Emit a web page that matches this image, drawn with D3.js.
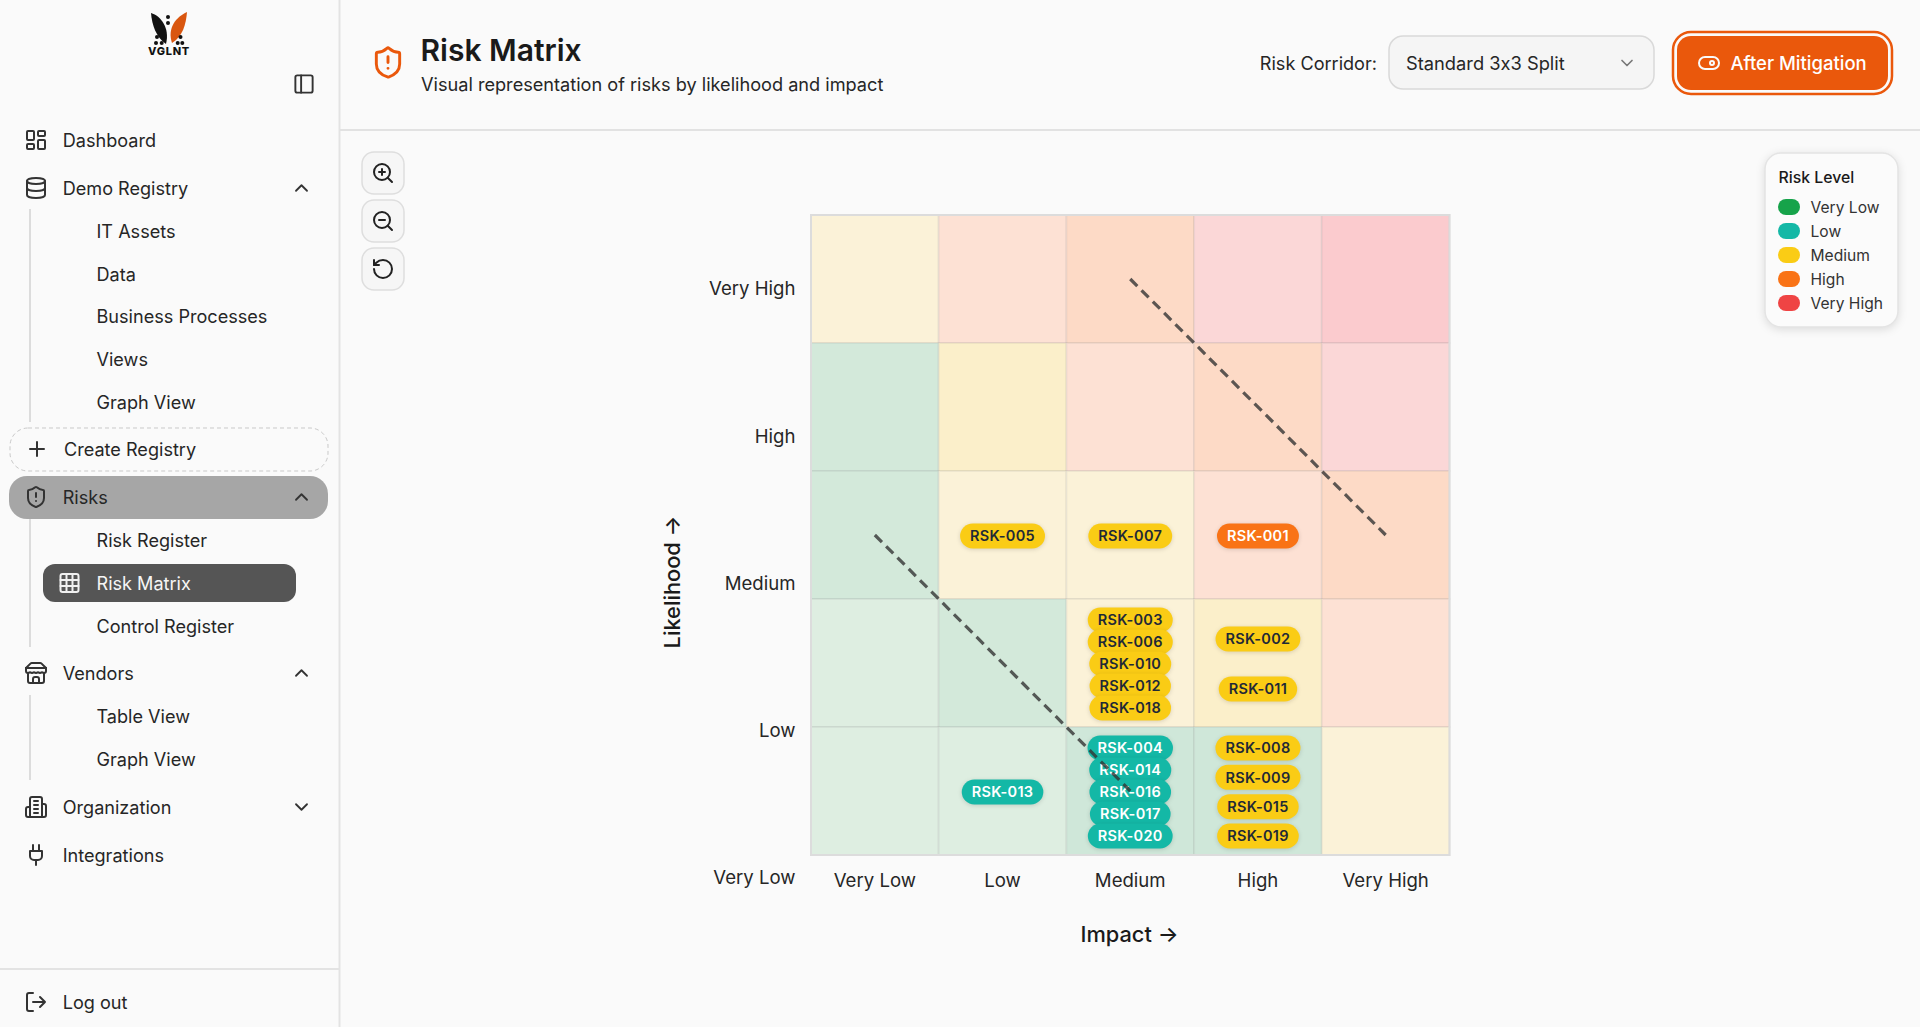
<!DOCTYPE html>
<html>
<head>
<meta charset="utf-8">
<title>Risk Matrix</title>
<script src="https://cdn.jsdelivr.net/npm/d3@7"></script>
<style>
    html, body { margin: 0; padding: 0; background: #fafafa; overflow: hidden; }
    svg { display: block; font-family: Inter, "Noto Sans", sans-serif; font-feature-settings: "calt" 0; }
    .badge rect { filter: drop-shadow(0 1px 2px rgba(0,0,0,.14)); }
    .axis .domain, .axis line { display: none; }
</style>
</head>
<body>
<svg id="page" width="1920" height="1027"></svg>
<script>
// matrix categories
var impactLevels = ["Very Low", "Low", "Medium", "High", "Very High"]
var likelihoodLevels = ["Very Low", "Low", "Medium", "High", "Very High"]

// cell tints, rows top to bottom (Very High -> Very Low)
var cellTints = [
    ["y1", "o1", "o2", "r1", "r2"],
    ["g2", "y2", "o1", "o2", "r1"],
    ["g2", "y1", "y1", "o1", "o2"],
    ["g1", "g2", "y1", "y2", "o1"],
    ["g1", "g1", "t1", "t1", "y1"]
]

// risks
var riskIds = ["RSK-001","RSK-002","RSK-003","RSK-004","RSK-005","RSK-006","RSK-007","RSK-008","RSK-009","RSK-010",
               "RSK-011","RSK-012","RSK-013","RSK-014","RSK-015","RSK-016","RSK-017","RSK-018","RSK-019","RSK-020"]
var riskImpact = ["High","High","Medium","Medium","Low","Medium","Medium","High","High","Medium",
                  "High","Medium","Low","Medium","High","Medium","Medium","Medium","High","Medium"]
var riskLikelihood = ["Medium","Low","Low","Very Low","Medium","Low","Medium","Very Low","Very Low","Low",
                      "Low","Low","Very Low","Very Low","Very Low","Very Low","Very Low","Low","Very Low","Very Low"]
var riskLevel = ["High","Medium","Medium","Low","Medium","Medium","Medium","Medium","Medium","Medium",
                 "Medium","Medium","Low","Low","Medium","Low","Low","Medium","Medium","Low"]

// legend
var legendLevels = ["Very Low", "Low", "Medium", "High", "Very High"]
var legendColors = ["#16a34a", "#14b8a6", "#facc15", "#f97316", "#ef4444"]

// 3x3 corridor lines [impact, likelihood] -> [impact, likelihood]
var corridorLines = [
    [["Very Low", "Medium"], ["Medium", "Very Low"]],
    [["Medium", "Very High"], ["Very High", "Medium"]]
]

// sidebar
var navLabels = ["Dashboard","Demo Registry","IT Assets","Data","Business Processes","Views","Graph View","Create Registry","Risks","Risk Register","Risk Matrix","Control Register","Vendors","Table View","Graph View","Organization","Integrations","Log out"]
var navY = [140,188,231,274,316,359,402,449,497,540,583,626,673,716,759,807,855,1002]
var navIcons = ["dashboard","database",null,null,null,null,null,"plus","shield",null,"grid",null,"store",null,null,"building","plug","logout"]
var navCarets = {1:"up", 8:"up", 12:"up", 15:"down"}

var icons = {
    dashboard: '<rect x="3" y="3" width="7" height="9" rx="1"/><rect x="14" y="3" width="7" height="5" rx="1"/><rect x="14" y="12" width="7" height="9" rx="1"/><rect x="3" y="16" width="7" height="5" rx="1"/>',
    database: '<ellipse cx="12" cy="5" rx="9" ry="3"/><path d="M3 5V19A9 3 0 0 0 21 19V5"/><path d="M3 12A9 3 0 0 0 21 12"/>',
    plus: '<path d="M5 12h14M12 5v14"/>',
    shield: '<path d="M20 13c0 5-3.5 7.5-7.66 8.95a1 1 0 0 1-.67-.01C7.5 20.5 4 18 4 13V6a1 1 0 0 1 1-1c2 0 4.5-1.2 6.24-2.72a1.17 1.17 0 0 1 1.52 0C14.51 3.81 17 5 19 5a1 1 0 0 1 1 1z"/><path d="M12 8v4M12 16h.01"/>',
    grid: '<rect x="3" y="3" width="18" height="18" rx="2"/><path d="M3 9h18M3 15h18M9 3v18M15 3v18"/>',
    store: '<path d="M2 7l4.41-4.41A2 2 0 0 1 7.83 2h8.34a2 2 0 0 1 1.42.59L22 7"/><path d="M4 12v8a2 2 0 0 0 2 2h12a2 2 0 0 0 2-2v-8"/><path d="M15 22v-4a2 2 0 0 0-2-2h-2a2 2 0 0 0-2 2v4"/><path d="M2 7h20"/><path d="M22 7v3a2 2 0 0 1-2 2a2.7 2.7 0 0 1-1.59-.63.7.7 0 0 0-.82 0A2.7 2.7 0 0 1 16 12a2.7 2.7 0 0 1-1.59-.63.7.7 0 0 0-.82 0A2.7 2.7 0 0 1 12 12a2.7 2.7 0 0 1-1.59-.63.7.7 0 0 0-.82 0A2.7 2.7 0 0 1 8 12a2.7 2.7 0 0 1-1.59-.63.7.7 0 0 0-.82 0A2.7 2.7 0 0 1 4 12a2 2 0 0 1-2-2V7"/>',
    building: '<path d="M6 22V4a2 2 0 0 1 2-2h8a2 2 0 0 1 2 2v18Z"/><path d="M6 12H4a2 2 0 0 0-2 2v6a2 2 0 0 0 2 2h2"/><path d="M18 9h2a2 2 0 0 1 2 2v9a2 2 0 0 1-2 2h-2"/><path d="M10 6h4M10 10h4M10 14h4M10 18h4"/>',
    plug: '<path d="M12 22v-5M9 8V2M15 8V2"/><path d="M18 8v5a4 4 0 0 1-4 4h-4a4 4 0 0 1-4-4V8Z"/>',
    logout: '<path d="M9 21H5a2 2 0 0 1-2-2V5a2 2 0 0 1 2-2h4"/><path d="M16 17l5-5-5-5M21 12H9"/>',
    panel: '<rect x="3" y="3" width="18" height="18" rx="2"/><path d="M9 3v18"/>',
    zoomin: '<circle cx="11" cy="11" r="8"/><path d="M21 21l-4.3-4.3M11 8v6M8 11h6"/>',
    zoomout: '<circle cx="11" cy="11" r="8"/><path d="M21 21l-4.3-4.3M8 11h6"/>',
    reset: '<path d="M3 12a9 9 0 1 0 9-9 9.75 9.75 0 0 0-6.74 2.74L3 8"/><path d="M3 3v5h5"/>',
    toggle: '<circle cx="15" cy="12" r="2"/><rect x="2" y="6" width="20" height="12" rx="6"/>',
    up: '<path d="M18 15l-6-6-6 6"/>',
    down: '<path d="M6 9l6 6 6-6"/>'
}

var svg = d3.select("#page")
var textColor = "#262626"

function addIcon(name, cx, cy, size, color) {
    svg.append("g")
        .attr("transform", `translate(${cx - size / 2},${cy - size / 2}) scale(${size / 24})`)
        .attr("fill", "none")
        .attr("stroke", color)
        .attr("stroke-width", 2)
        .attr("stroke-linecap", "round")
        .attr("stroke-linejoin", "round")
        .html(icons[name])
}

function addText(str, x, y, size, opts) {
    opts = opts || {}
    return svg.append("text")
        .attr("x", x)
        .attr("y", y + 0.3)
        .attr("dy", "0.35em")
        .attr("font-size", size)
        .attr("font-weight", opts.weight || 400)
        .attr("text-anchor", opts.anchor || "start")
        .attr("fill", opts.color || textColor)
        .text(str)
}

//SIDEBAR
svg.append("line").attr("x1", 339.5).attr("x2", 339.5).attr("y1", 0).attr("y2", 1027).attr("stroke", "#e3e3e3").attr("stroke-width", 2)
svg.append("line").attr("x1", 0).attr("x2", 339).attr("y1", 969).attr("y2", 969).attr("stroke", "#e3e3e3").attr("stroke-width", 2)

// logo
var logo = svg.append("g")
logo.append("path").attr("d", "M151 13C161 16 170 28 166 44C156 37 152 25 151 13Z").attr("fill", "#111")
logo.append("path").attr("d", "M187 12C176 17 167 28 172 43C183 36 186 24 187 12Z").attr("fill", "#d9560f")
logo.selectAll("circle")
    .data([[168,17],[168,23],[157,37],[156,43],[161.7,43],[180.5,37],[177.7,43],[182.3,43]])
    .enter().append("circle")
    .attr("cx", d => d[0]).attr("cy", d => d[1]).attr("r", 2).attr("fill", "#111")
addText("VGLNT", 169, 50.5, 11, {weight: 800, anchor: "middle", color: "#111"}).attr("letter-spacing", 0.7)
addIcon("panel", 304, 84, 23, "#333")

// highlighted rows
svg.append("rect").attr("x", 10).attr("y", 428).attr("width", 318).attr("height", 43).attr("rx", 18)
    .attr("fill", "none").attr("stroke", "#c9c9c9").attr("stroke-dasharray", "4 3")
svg.append("rect").attr("x", 9).attr("y", 476).attr("width", 319).attr("height", 43).attr("rx", 18).attr("fill", "#a6a6a6")
svg.append("rect").attr("x", 43).attr("y", 564).attr("width", 253).attr("height", 38).attr("rx", 12).attr("fill", "#555555")

// tree lines
var treeLines = [[209, 422], [519, 647], [695, 780]]
svg.selectAll("line.tree").data(treeLines).enter().append("line").attr("class", "tree")
    .attr("x1", 30).attr("x2", 30)
    .attr("y1", d => d[0]).attr("y2", d => d[1])
    .attr("stroke", "#dcdcdc").attr("stroke-width", 2)

navLabels.forEach(function(label, i) {
    var isActive = label === "Risk Matrix"
    var x = label === "Create Registry" ? 64 : (navIcons[i] === null || isActive ? 96.5 : 62.7)
    addText(label, x, navY[i], 18.1, {color: isActive ? "#f5f5f5" : textColor})
    if (navIcons[i]) {
        var ix = isActive ? 69.5 : (label === "Create Registry" ? 37 : 36)
        addIcon(navIcons[i], ix, navY[i], 24, isActive ? "#f0f0f0" : "#333")
    }
    if (navCarets[i]) addIcon(navCarets[i], 301.5, navY[i], 22, "#333")
})

//HEADER
svg.append("line").attr("x1", 340).attr("x2", 1920).attr("y1", 130).attr("y2", 130).attr("stroke", "#e2e2e2").attr("stroke-width", 2)
addIcon("shield", 388, 62.5, 35, "#ea580c")
addText("Risk Matrix", 420.5, 50, 30, {weight: 600, color: "#1a1a1a"})
addText("Visual representation of risks by likelihood and impact", 421, 84.5, 18.15)

addText("Risk Corridor:", 1377, 63, 18.1, {anchor: "end"})
svg.append("rect").attr("x", 1389).attr("y", 36).attr("width", 265).attr("height", 53).attr("rx", 14)
    .attr("fill", "#f5f5f5").attr("stroke", "#d9d9d9").attr("stroke-width", 1.5)
addText("Standard 3x3 Split", 1406, 63, 18.3)
addIcon("down", 1627, 63, 20, "#777")

svg.append("rect").attr("x", 1673).attr("y", 32).attr("width", 219).attr("height", 62).attr("rx", 18)
    .attr("fill", "#fafafa").attr("stroke", "#ea580c").attr("stroke-width", 2.5)
svg.append("rect").attr("x", 1677).attr("y", 36).attr("width", 211).attr("height", 54).attr("rx", 14).attr("fill", "#ea580c")
addIcon("toggle", 1709, 63, 24, "#fafafa")
addText("After Mitigation", 1730.5, 63, 18.5, {weight: 500, color: "#fff"})

//ZOOM BUTTONS
var zoomButtons = [["zoomin", 173], ["zoomout", 221], ["reset", 269]]
zoomButtons.forEach(function(b) {
    svg.append("rect").attr("x", 362).attr("y", b[1] - 21).attr("width", 42).attr("height", 42).attr("rx", 12)
        .attr("fill", "#f6f6f6").attr("stroke", "#dedede").attr("stroke-width", 1.5)
    addIcon(b[0], 383, b[1], 24, "#222")
})

//MATRIX
var xScale = d3.scaleBand().domain(impactLevels).range([811, 1449.5])
var yScale = d3.scaleBand().domain(likelihoodLevels.slice().reverse()).range([215, 855])
// the likelihood ticks are spaced wider than the cells in the reference
var yTickScale = d3.scalePoint().domain(likelihoodLevels).range([878, 289])

var tintScale = d3.scaleOrdinal()
    .domain(["g1","g2","t1","y1","y2","o1","o2","r1","r2"])
    .range(["#deeee1","#d3e9da","#cfe7d9","#fbf2d8","#fbefca","#fde1d4","#fddac6","#fbd7d7","#fbcbce"])

var cells = []
cellTints.forEach(function(row, r) {
    row.forEach(function(tint, c) {
        cells.push({impact: impactLevels[c], likelihood: yScale.domain()[r], tint: tint})
    })
})

svg.append("g").selectAll("rect")
    .data(cells)
    .enter()
    .append("rect")
    .attr("x", d => xScale(d.impact))
    .attr("y", d => yScale(d.likelihood))
    .attr("width", xScale.bandwidth())
    .attr("height", yScale.bandwidth())
    .attr("fill", d => tintScale(d.tint))
    .attr("stroke", "#8c8c8c")
    .attr("stroke-opacity", 0.11)
    .attr("stroke-width", 2)

svg.append("rect")
    .attr("x", 811).attr("y", 215).attr("width", 638.5).attr("height", 640)
    .attr("fill", "none").attr("stroke", "#dcdcdc").attr("stroke-width", 2)

// axes
var xAxis = svg.append("g").attr("class", "axis").attr("transform", "translate(0,880.5)")
    .call(d3.axisBottom(xScale).tickSize(0).tickPadding(0))
xAxis.selectAll("text").attr("y", 0).attr("dy", "0.35em").attr("font-size", 18.6).attr("fill", textColor).attr("font-family", "Inter")

var yAxis = svg.append("g").attr("class", "axis").attr("transform", "translate(795.5,0)")
    .call(d3.axisLeft(yTickScale).tickSize(0).tickPadding(0))
yAxis.selectAll("text").attr("font-size", 18.6).attr("fill", textColor).attr("font-family", "Inter")

addText("Impact →", 1129.5, 934, 21.8, {weight: 500, anchor: "middle", color: "#1a1a1a"})
svg.append("text")
    .attr("transform", "translate(672,582) rotate(-90)")
    .attr("dy", "0.35em")
    .attr("text-anchor", "middle")
    .attr("font-size", 21.8)
    .attr("font-weight", 500)
    .attr("fill", "#1a1a1a")
    .text("Likelihood →")

//BADGES
var levelColor = d3.scaleOrdinal().domain(legendLevels).range(legendColors)
var badgeSpread = {1: 0, 2: 50, 3: 70, 4: 88, 5: 88}

var risks = riskIds.map(function(id, i) {
    return {id: id, impact: riskImpact[i], likelihood: riskLikelihood[i], level: riskLevel[i]}
})

// stack badges sharing a cell with a point scale around the cell centre
var byCell = d3.group(risks, d => d.impact + "|" + d.likelihood)
byCell.forEach(function(list) {
    var cy = yScale(list[0].likelihood) + yScale.bandwidth() / 2 + 1
    var half = badgeSpread[list.length] / 2
    var pos = d3.scalePoint().domain(list.map(d => d.id)).range([cy - half, cy + half])
    list.forEach(d => { d.cy = list.length > 1 ? pos(d.id) : cy })
})

var badges = svg.append("g").selectAll("g")
    .data(risks)
    .enter()
    .append("g")
    .attr("class", "badge")
    .attr("transform", d => `translate(${xScale(d.impact) + xScale.bandwidth() / 2},${d.cy})`)

var badgeRects = badges.append("rect")
    .attr("y", -12.5)
    .attr("height", 25)
    .attr("rx", 12.5)
    .attr("fill", d => levelColor(d.level))

var badgeTexts = badges.append("text")
    .attr("text-anchor", "middle")
    .attr("dy", "0.36em")
    .attr("font-size", 14.5)
    .attr("font-weight", 600)
    .attr("letter-spacing", 0.3)
    .attr("fill", d => d.level === "Medium" ? "#1f2937" : "#ffffff")
    .text(d => d.id)

badgeRects.each(function(d, i) {
    var w = badgeTexts.nodes()[i].getComputedTextLength() + 20
    d3.select(this).attr("x", -w / 2).attr("width", w)
})

// corridor lines go over the badges
var corridor = d3.line()
    .x(d => xScale(d[0]) + xScale.bandwidth() / 2)
    .y(d => yScale(d[1]) + yScale.bandwidth() / 2)

svg.append("g").selectAll("path")
    .data(corridorLines)
    .enter()
    .append("path")
    .attr("d", corridor)
    .attr("fill", "none")
    .attr("stroke", "#333")
    .attr("stroke-opacity", 0.8)
    .attr("stroke-width", 3.2)
    .attr("stroke-dasharray", "10 6")

//LEGEND
svg.append("rect").attr("x", 1765).attr("y", 153).attr("width", 133).attr("height", 174).attr("rx", 16)
    .attr("fill", "#fbfbfb").attr("stroke", "#e4e4e4").attr("stroke-width", 1.5)
    .style("filter", "drop-shadow(0 2px 4px rgba(0,0,0,.12))")
addText("Risk Level", 1778.5, 177.5, 15.8, {weight: 500, color: "#1a1a1a"})

var legendY = d3.scalePoint().domain(legendLevels).range([207, 303])
var legend = svg.append("g").selectAll("g")
    .data(legendLevels)
    .enter()
    .append("g")
    .attr("transform", d => `translate(1778,${legendY(d)})`)
legend.append("rect")
    .attr("y", -8).attr("width", 22).attr("height", 16).attr("rx", 8)
    .attr("fill", d => levelColor(d))
legend.append("text")
    .attr("x", 32.5).attr("y", 0.7).attr("dy", "0.35em")
    .attr("font-size", 15.6)
    .attr("fill", "#333")
    .text(d => d)
</script>
</body>
</html>
